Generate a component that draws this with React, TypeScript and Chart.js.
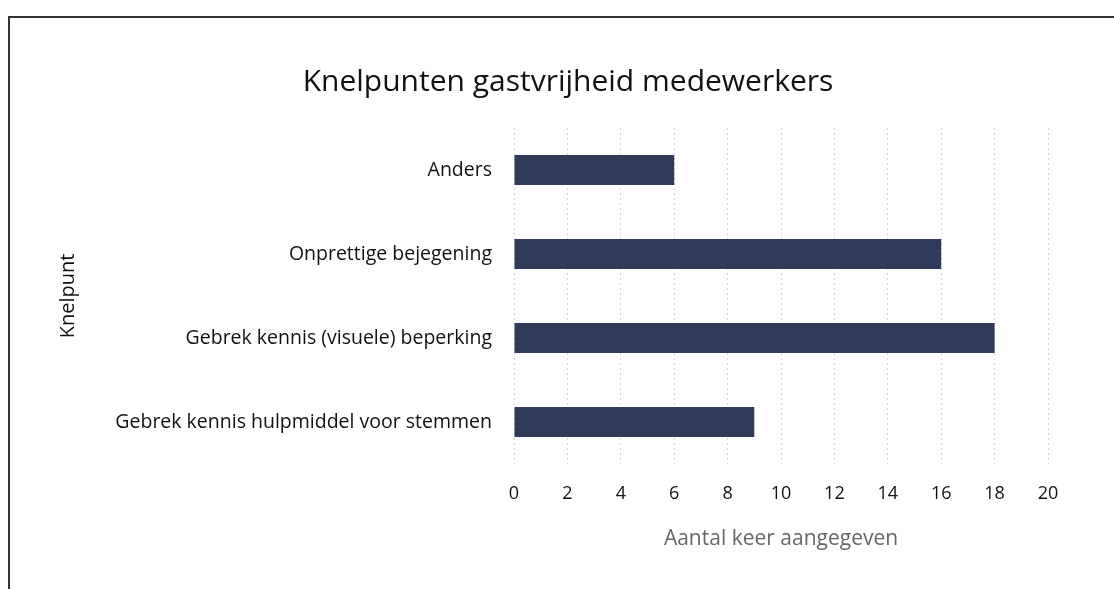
import React, { useEffect, useRef } from "react";
import { Chart, registerables } from "chart.js";

Chart.register(...registerables);

const categories = [
  "Anders",
  "Onprettige bejegening",
  "Gebrek kennis (visuele) beperking",
  "Gebrek kennis hulpmiddel voor stemmen",
];
const values = [6, 16, 18, 9];
const xTicks = [0, 2, 4, 6, 8, 10, 12, 14, 16, 18, 20];
const chartTitle = "Knelpunten gastvrijheid medewerkers";

const FONT = "'Open Sans', Lato, sans-serif";

export default function App() {
  const ref = useRef<HTMLCanvasElement | null>(null);
  useEffect(() => {
    if (!ref.current) return;
    const chart = new Chart(ref.current, {
      type: "bar",
      data: {
        labels: categories,
        datasets: [
          {
            data: values,
            backgroundColor: "#2f3b58",
            borderWidth: 0,
            categoryPercentage: 1,
            barPercentage: 0.36,
          },
        ],
      },
      options: {
        indexAxis: "y",
        animation: false,
        responsive: false,
        devicePixelRatio: 1,
        layout: { padding: { left: 56, right: 66, top: 128, bottom: 37 } },
        plugins: {
          legend: { display: false },
          tooltip: { enabled: false },
          title: { display: false },
        },
        scales: {
          x: {
            min: 0,
            max: 20,
            afterBuildTicks: (scale: any) => {
              scale.ticks = xTicks.map((v) => ({ value: v }));
            },
            afterFit: (scale: any) => {
              scale.height = 88;
            },
            ticks: {
              color: "#111",
              font: { family: FONT, size: 18 },
              padding: 19,
              maxRotation: 0,
            },
            grid: {
              color: "#d4d4d4",
              drawTicks: false,
            },
            border: { display: false, dash: [2, 3] },
            title: {
              display: true,
              text: "Aantal keer aangegeven",
              color: "#666",
              font: { family: FONT, size: 21 },
              padding: { top: 0, bottom: 0 },
            },
          },
          y: {
            afterFit: (scale: any) => {
              scale.width = 514 - 56;
            },
            ticks: {
              color: "#111",
              font: { family: FONT, size: 19.5 },
              padding: 22,
            },
            grid: { display: false, drawTicks: false },
            border: { display: false },
            title: {
              display: true,
              text: "Knelpunt",
              color: "#111",
              font: { family: FONT, size: 20 },
              padding: { top: 0, bottom: 0 },
            },
          },
        },
      },
    });
    return () => chart.destroy();
  }, []);

  return (
    <div
      style={{
        position: "fixed",
        left: 0,
        top: 0,
        width: 1114,
        height: 589,
        overflow: "hidden",
        background: "#fff",
      }}
    >
      <div
        style={{
          position: "absolute",
          left: 8,
          top: 16,
          width: 1200,
          height: 700,
          border: "2px solid #333",
          boxSizing: "border-box",
        }}
      />
      <canvas
        ref={ref}
        width={1114}
        height={589}
        style={{ position: "absolute", left: 0, top: 0, width: 1114, height: 589 }}
      />
      <div
        style={{
          position: "absolute",
          left: 218,
          width: 700,
          top: 60,
          height: 40,
          lineHeight: "40px",
          textAlign: "center",
          fontFamily: FONT,
          fontSize: 30,
          color: "#111",
          whiteSpace: "nowrap",
        }}
      >
        {chartTitle}
      </div>
    </div>
  );
}
